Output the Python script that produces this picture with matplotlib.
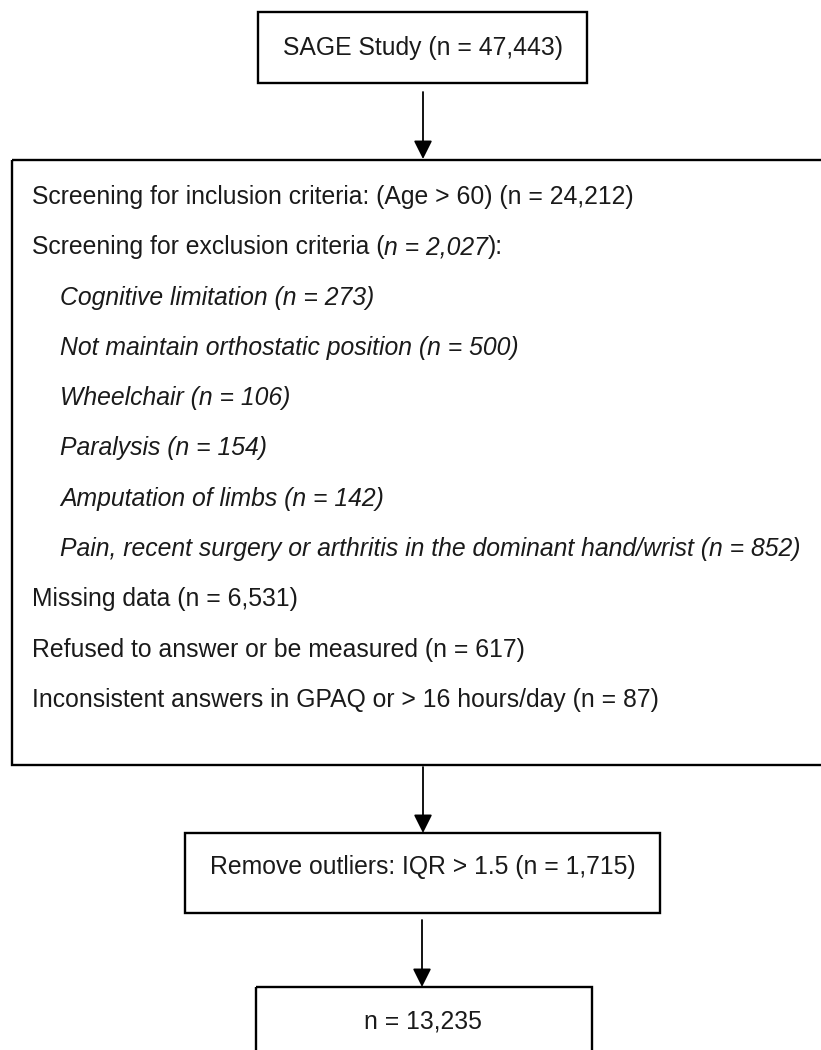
import matplotlib.pyplot as plt
from matplotlib.patches import Rectangle

plt.rcParams['font.family'] = ['Liberation Sans', 'DejaVu Sans']

# Flowchart content
top_label = "SAGE Study (n = 47,443)"
# each row: list of (text, italic) pieces, indent flag
screen_rows = [
    ([("Screening for inclusion criteria: (Age > 60) (n = 24,212)", False)], False),
    ([("Screening for exclusion criteria (", False), ("n = 2,027", True), ("):", False)], False),
    ([("Cognitive limitation (n = 273)", True)], True),
    ([("Not maintain orthostatic position (n = 500)", True)], True),
    ([("Wheelchair (n = 106)", True)], True),
    ([("Paralysis (n = 154)", True)], True),
    ([("Amputation of limbs (n = 142)", True)], True),
    ([("Pain, recent surgery or arthritis in the dominant hand/wrist (n = 852)", True)], True),
    ([("Missing data (n = 6,531)", False)], False),
    ([("Refused to answer or be measured (n = 617)", False)], False),
    ([("Inconsistent answers in GPAQ or > 16 hours/day (n = 87)", False)], False),
]
outlier_label = "Remove outliers: IQR > 1.5 (n = 1,715)"
final_label = "n = 13,235"

W, H = 821, 1050
fig = plt.figure(figsize=(W / 100, H / 100), dpi=100)
ax = fig.add_axes([0, 0, 1, 1])
ax.set_xlim(0, W)
ax.set_ylim(H, 0)
ax.axis('off')

fs = 17.8
lw = 1.7
txt_color = '#1a1a1a'


def box(x0, y0, x1, y1):
    ax.add_patch(Rectangle((x0, y0), x1 - x0, y1 - y0, fill=False,
                           edgecolor='black', linewidth=lw, clip_on=False))


def arrow(x, y0, y1):
    ax.annotate('', xy=(x, y1), xytext=(x, y0),
                arrowprops=dict(arrowstyle='-|>', color='black', lw=1.3,
                                mutation_scale=28, shrinkA=0, shrinkB=0))


# top box
box(258, 12, 587, 83)
ax.text(423, 48, top_label, fontsize=fs, ha='center', va='center', color=txt_color)
arrow(423, 92, 159)

# screening box (runs past the right edge)
box(12, 160, 840, 765)
fig.canvas.draw()
renderer = fig.canvas.get_renderer()
y = 197
for pieces, indent in screen_rows:
    x = 60 if indent else 32
    for txt, it in pieces:
        t = ax.text(x, y, txt, fontsize=fs, ha='left', va='center', color=txt_color,
                    style='italic' if it else 'normal')
        bb = t.get_window_extent(renderer=renderer)
        x += bb.width
    y += 50.3

arrow(423, 767, 833)

# outliers box
box(185, 833, 660, 913)
ax.text(423, 867, outlier_label, fontsize=fs, ha='center', va='center', color=txt_color)
arrow(422, 920, 987)

# final box (cut off at bottom)
box(256, 987, 592, 1080)
ax.text(423, 1022, final_label, fontsize=fs, ha='center', va='center', color=txt_color)

fig.savefig('out.png', dpi=100)
